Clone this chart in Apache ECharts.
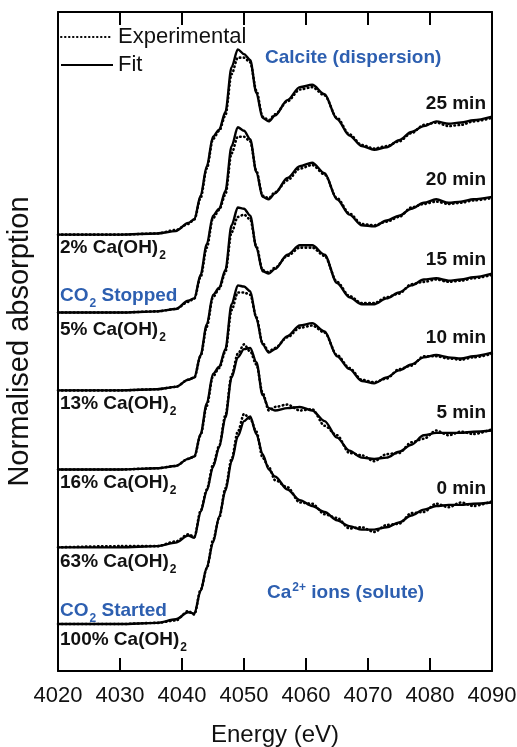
<!DOCTYPE html>
<html><head><meta charset="utf-8">
<script src="https://cdn.jsdelivr.net/npm/echarts@6/dist/echarts.min.js"></script>
<style>html,body{margin:0;padding:0;background:#fff}#c{width:517px;height:747px}</style>
</head><body><div id="c"></div>
<script>
// Energy grid (eV)
const energies = [4020,4030,4036,4039,4041,4042,4043,4044,4045,4046,4047,4048,4049,4050,4051,4052,4053,4054,4055,4057,4059,4061,4063,4065,4067,4069,4071,4073,4075,4077,4079,4081,4083,4085,4087,4090];

// Normalised absorption, fits
const fit0  = [0,0,0.01,0.04,0.10,0.09,0.28,0.48,0.69,0.91,1.13,1.38,1.59,1.72,1.76,1.61,1.44,1.31,1.25,1.14,1.05,1.00,0.95,0.88,0.83,0.80,0.80,0.82,0.86,0.92,0.97,1.00,1.01,1.01,1.02,1.03];
const fit5  = [0,0,0.01,0.04,0.10,0.08,0.30,0.48,0.68,0.85,1.10,1.44,1.61,1.68,1.69,1.57,1.29,1.18,1.16,1.18,1.19,1.16,1.07,0.93,0.82,0.76,0.75,0.76,0.81,0.87,0.95,0.97,0.97,0.97,0.98,0.99];
const fit10 = [0,0,0.01,0.03,0.09,0.11,0.30,0.56,0.81,0.87,1.02,1.40,1.56,1.55,1.51,1.28,1.06,0.99,1.02,1.13,1.22,1.24,1.17,0.96,0.85,0.75,0.73,0.78,0.84,0.89,0.95,0.97,0.95,0.94,0.96,0.99];
const fit15 = [0,0,0.01,0.03,0.09,0.11,0.30,0.56,0.81,0.87,1.02,1.40,1.55,1.54,1.48,1.21,1.01,0.99,1.03,1.15,1.23,1.23,1.15,0.91,0.79,0.73,0.73,0.78,0.83,0.89,0.94,0.95,0.93,0.94,0.96,0.99];
const fit20 = [0,0,0.01,0.03,0.10,0.12,0.32,0.58,0.82,0.88,1.03,1.41,1.57,1.54,1.47,1.19,0.98,0.96,1.01,1.14,1.24,1.27,1.18,0.96,0.83,0.74,0.73,0.78,0.82,0.88,0.93,0.96,0.93,0.94,0.96,0.98];
const fit25 = [0,0,0.01,0.03,0.10,0.13,0.33,0.58,0.83,0.89,1.04,1.42,1.57,1.53,1.48,1.20,0.99,0.96,1.01,1.14,1.25,1.27,1.19,0.98,0.84,0.75,0.72,0.74,0.80,0.87,0.92,0.96,0.94,0.95,0.97,1.00];

// Normalised absorption, experimental
const exp0  = [0,0,0.01,0.03,0.11,0.08,0.29,0.47,0.71,0.90,1.15,1.40,1.63,1.78,1.74,1.63,1.41,1.33,1.22,1.16,1.03,1.02,0.93,0.90,0.81,0.82,0.78,0.84,0.85,0.94,0.95,1.02,0.99,1.03,1.00,1.04];
const exp5  = [0,0.01,0.01,0.05,0.11,0.09,0.31,0.49,0.70,0.86,1.12,1.46,1.64,1.72,1.66,1.55,1.31,1.16,1.19,1.21,1.16,1.17,1.03,0.95,0.80,0.78,0.73,0.79,0.80,0.89,0.92,0.99,0.95,0.98,0.96,1.00];
const exp10 = [0,0,0.01,0.03,0.09,0.11,0.29,0.54,0.79,0.86,1.00,1.35,1.50,1.50,1.48,1.29,1.07,1.00,1.03,1.12,1.20,1.22,1.16,0.97,0.86,0.76,0.74,0.77,0.85,0.88,0.96,0.96,0.94,0.93,0.95,0.98];
const exp15 = [0,0,0.01,0.03,0.09,0.11,0.29,0.54,0.79,0.86,1.00,1.34,1.47,1.49,1.45,1.22,1.02,1.00,1.04,1.14,1.21,1.21,1.14,0.92,0.80,0.74,0.74,0.79,0.82,0.90,0.92,0.94,0.92,0.93,0.95,0.98];
const exp20 = [0,0,0.01,0.03,0.09,0.12,0.30,0.55,0.80,0.87,1.00,1.35,1.49,1.49,1.45,1.20,0.99,0.97,1.02,1.12,1.22,1.25,1.17,0.97,0.84,0.75,0.74,0.77,0.81,0.89,0.92,0.94,0.92,0.93,0.95,0.97];
const exp25 = [0,0,0.01,0.04,0.09,0.13,0.31,0.56,0.81,0.88,1.01,1.36,1.50,1.50,1.46,1.22,1.00,0.97,1.02,1.13,1.23,1.25,1.18,0.99,0.85,0.76,0.73,0.75,0.79,0.86,0.93,0.95,0.92,0.93,0.96,0.99];

// vertical stacking offsets (normalised units)
const offsets = [0, 0.65, 1.31, 1.98, 2.64, 3.30];
const fits = [fit0, fit5, fit10, fit15, fit20, fit25];
const exps = [exp0, exp5, exp10, exp15, exp20, exp25];

const xTicks = [4020,4030,4040,4050,4060,4070,4080,4090];

const FONT = 'Liberation Sans, Arial, Helvetica, sans-serif';
const BLUE = '#2d5fb0';

function toData(vals, off){ return energies.map((e,i)=>[e, +(vals[i]+off).toFixed(3)]); }

const series = [];
for (let k=0;k<6;k++){
  series.push({
    name:'Experimental', type:'line', symbol:'none', smooth:0.3, smoothMonotone:'x',
    data: toData(exps[k], offsets[k]), itemStyle:{color:'#000'},
    lineStyle:{color:'#000', width:2.6, type:[0.5,3.5], cap:'round'}, z:2
  });
  series.push({
    name:'Fit', type:'line', symbol:'none', smooth:0.3, smoothMonotone:'x',
    data: toData(fits[k], offsets[k]), itemStyle:{color:'#000'},
    lineStyle:{color:'#000', width:2.4, type:'solid'}, z:3
  });
}

const chart = echarts.init(document.getElementById('c'), null, {renderer:'canvas'});

const subRich = {
  b:{fontFamily:FONT, fontSize:19, fontWeight:'bold', fill:'#111', lineHeight:22},
  s:{fontFamily:FONT, fontSize:12, fontWeight:'bold', fill:'#111', verticalAlign:'bottom', lineHeight:14, padding:[0,0,-3,1]},
  bb:{fontFamily:FONT, fontSize:19, fontWeight:'bold', fill:BLUE, lineHeight:22},
  bs:{fontFamily:FONT, fontSize:12, fontWeight:'bold', fill:BLUE, verticalAlign:'bottom', lineHeight:14, padding:[0,0,-3,1]},
  bp:{fontFamily:FONT, fontSize:12, fontWeight:'bold', fill:BLUE, verticalAlign:'top', lineHeight:14, padding:[0,0,0,1]}
};

function txt(text, x, y, align){
  return {type:'text', x:x, y:y, z:10,
    style:{text:text, rich:subRich, align:align||'left', verticalAlign:'middle', font:'bold 19px '+FONT}};
}

const leftLabels = [
  ['{b|2% Ca(OH)}{s|2}', 248],
  ['{bb|CO}{bs|2}{bb| Stopped}', 296],
  ['{b|5% Ca(OH)}{s|2}', 330],
  ['{b|13% Ca(OH)}{s|2}', 404],
  ['{b|16% Ca(OH)}{s|2}', 483],
  ['{b|63% Ca(OH)}{s|2}', 562],
  ['{bb|CO}{bs|2}{bb| Started}', 611],
  ['{b|100% Ca(OH)}{s|2}', 640]
];
const rightLabels = [['25 min',104],['20 min',180],['15 min',260],['10 min',338],['5 min',413],['0 min',489]];

const graphics = [];
leftLabels.forEach(l=>graphics.push(txt(l[0], 60, l[1], 'left')));
rightLabels.forEach(l=>graphics.push(txt('{b|'+l[0]+'}', 486, l[1], 'right')));
graphics.push(txt('{bb|Calcite (dispersion)}', 265, 58, 'left'));
graphics.push(txt('{bb|Ca}{bp|2+}{bb| ions (solute)}', 267, 593, 'left'));

chart.setOption({
  animation:false,
  backgroundColor:'#fff',
  grid:{left:58, right:25, top:12, bottom:76, containLabel:false, outerBoundsMode:'none'},
  legend:{
    data:['Experimental','Fit'], orient:'vertical', left:60, top:26, padding:0,
    itemWidth:52, itemHeight:14, itemGap:6,
    itemStyle:{opacity:0},
    textStyle:{fontFamily:FONT, fontSize:22, color:'#111'}
  },
  xAxis:[{
    type:'value', min:4020, max:4090, interval:10, position:'bottom',
    name:'Energy (eV)', nameLocation:'middle', nameGap:52,
    nameTextStyle:{fontFamily:FONT, fontSize:24, color:'#111'},
    axisLine:{show:true, onZero:false, lineStyle:{color:'#000', width:2}},
    axisTick:{show:true, inside:true, length:13, lineStyle:{color:'#000', width:2}},
    axisLabel:{show:true, margin:14, fontFamily:FONT, fontSize:22, color:'#111',
      formatter:v=> xTicks.indexOf(v)>=0 ? String(v) : ''},
    splitLine:{show:false}
  },{
    type:'value', min:4020, max:4090, interval:10, position:'top',
    axisLine:{show:true, onZero:false, lineStyle:{color:'#000', width:2}},
    axisTick:{show:true, inside:true, length:13, lineStyle:{color:'#000', width:2}},
    axisLabel:{show:false}, splitLine:{show:false}
  }],
  yAxis:[{
    type:'value', min:-0.398, max:5.187, position:'left',
    name:'Normalised absorption', nameLocation:'middle', nameGap:24, nameRotate:90,
    nameTextStyle:{fontFamily:FONT, fontSize:29, color:'#111'},
    axisLine:{show:true, onZero:false, lineStyle:{color:'#000', width:2}},
    axisTick:{show:false}, axisLabel:{show:false}, splitLine:{show:false}
  },{
    type:'value', min:-0.398, max:5.187, position:'right',
    axisLine:{show:true, onZero:false, lineStyle:{color:'#000', width:2}},
    axisTick:{show:false}, axisLabel:{show:false}, splitLine:{show:false}
  }],
  series:series,
  graphic:graphics
});
</script>
</body></html>
